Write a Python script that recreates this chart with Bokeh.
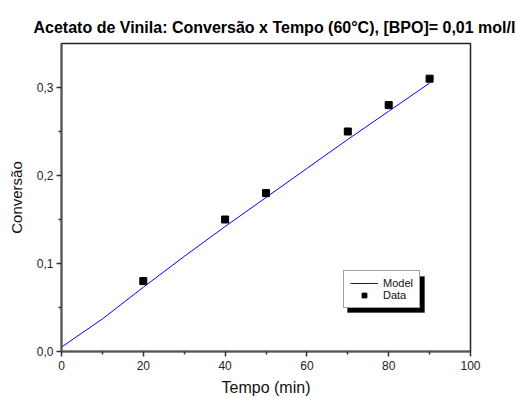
from bokeh.plotting import figure
from bokeh.models import Range1d, FixedTicker, Legend, LegendItem, Title, BoxAnnotation
from bokeh.embed import file_html
from bokeh.resources import INLINE

# data
time_min = [20, 40, 50, 70, 80, 90]
conversion = [0.08, 0.15, 0.18, 0.25, 0.28, 0.31]
model_time = [0, 10, 20, 30, 40, 50, 60, 70, 80, 90]
model_conv = [0.005, 0.037, 0.073, 0.108, 0.142, 0.175, 0.208, 0.241, 0.273, 0.305]

x_ticks = [0, 20, 40, 60, 80, 100]
x_tick_labels = ["0", "20", "40", "60", "80", "100"]
y_ticks = [0.0, 0.1, 0.2, 0.3]
y_tick_labels = ["0,0", "0,1", "0,2", "0,3"]

FONT = "Liberation Sans"
Y_MAX = 0.35

p = figure(width=516, height=398, output_backend="svg", toolbar_location=None,
           x_range=Range1d(0, 100), y_range=Range1d(0, Y_MAX),
           min_border_left=61, min_border_right=46, min_border_top=43, min_border_bottom=46,
           background_fill_color="white", border_fill_color="white")
p.title = None
p.add_layout(Title(text="Acetato de Vinila: Conversão x Tempo (60°C), [BPO]= 0,01 mol/l",
                   text_font=FONT, text_font_size="16px", text_font_style="bold",
                   text_color="black", align="left", offset=-28, standoff=16), "above")

p.grid.visible = False
p.outline_line_color = "#222222"
p.outline_line_width = 1.5

for ax in (p.xaxis[0], p.yaxis[0]):
    ax.axis_line_color = "#555555"
    ax.axis_line_width = 2
    ax.major_tick_line_color = "#333333"
    ax.minor_tick_line_color = "#333333"
    ax.major_tick_line_width = 1.5
    ax.minor_tick_line_width = 1.5
    ax.major_tick_out = 5
    ax.major_tick_in = 0
    ax.minor_tick_out = 3
    ax.minor_tick_in = 0
    ax.major_label_text_font = FONT
    ax.major_label_text_font_size = "12px"
    ax.major_label_text_color = "#222222"
    ax.axis_label_text_font = FONT
    ax.axis_label_text_font_style = "normal"
    ax.axis_label_text_color = "#111111"

p.xaxis.ticker = FixedTicker(ticks=x_ticks, minor_ticks=[10, 30, 50, 70, 90])
p.xaxis.major_label_overrides = dict(zip(x_ticks, x_tick_labels))
p.yaxis.ticker = FixedTicker(ticks=y_ticks, minor_ticks=[0.05, 0.15, 0.25])
p.yaxis.major_label_overrides = dict(zip(y_ticks, y_tick_labels))
p.xaxis.axis_label = "Tempo (min)"
p.yaxis.axis_label = "Conversão"
p.xaxis.axis_label_text_font_size = "16px"
p.yaxis.axis_label_text_font_size = "15px"
p.xaxis.major_label_standoff = 4
p.yaxis.major_label_standoff = 3
p.xaxis.axis_label_standoff = 6
p.yaxis.axis_label_standoff = 9

model_r = p.line(model_time, model_conv, line_color="#0000FF", line_width=1)
data_r = p.scatter(time_min, conversion, marker="square", size=7,
                   fill_color="black", line_color="black")

LG_X, LG_Y, LG_W, LG_H = 282, 43, 77, 36
p.add_layout(BoxAnnotation(left=LG_X + 4, right=LG_X + LG_W + 4,
                           bottom=LG_Y - 4, top=LG_Y + LG_H - 4,
                           left_units="screen", right_units="screen",
                           bottom_units="screen", top_units="screen",
                           fill_color="black", fill_alpha=1.0, line_color="black",
                           level="annotation"))

legend = Legend(items=[LegendItem(label="Model", renderers=[model_r]),
                       LegendItem(label="Data", renderers=[data_r])],
                location=(LG_X, LG_Y), orientation="vertical",
                label_text_font=FONT, label_text_font_size="11px",
                label_text_color="#111111",
                glyph_width=28, glyph_height=12, label_height=12,
                spacing=0, padding=6, margin=0, label_standoff=5,
                background_fill_color="white", background_fill_alpha=1.0,
                border_line_color="#444444", border_line_width=1)
p.add_layout(legend, "center")

open("out.html", "w").write(file_html(p, INLINE))
